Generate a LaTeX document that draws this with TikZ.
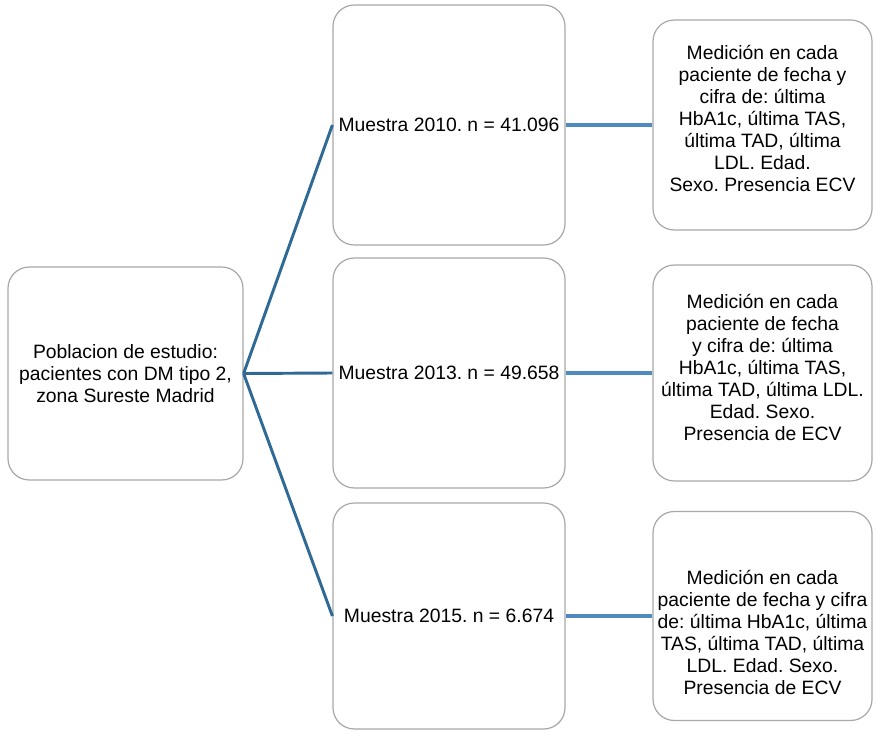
\documentclass[tikz,border=0pt]{standalone}
\usepackage{fontspec}
\setmainfont{Liberation Sans}
\frenchspacing
\definecolor{fanblue}{HTML}{2F6A96}
\definecolor{linkblue}{HTML}{4F8BBF}
\definecolor{boxgray}{HTML}{A8A8A8}

\begin{document}
\begin{tikzpicture}[x=0.75pt,y=-0.75pt,
		box/.style={draw=boxgray, line width=0.9pt, rounded corners=16pt, fill=white, align=center, font=\fontsize{14.5}{16.5}\selectfont},
		txt/.style={align=center, inner sep=0pt, font=\fontsize{14.5}{16.5}\selectfont},
		fan/.style={draw=fanblue, line width=2.2pt},
		link/.style={draw=linkblue, line width=3pt}]
			%%%%% START %%%%%
			\useasboundingbox (0,0) rectangle (874,731);
			
			\node[box, minimum width=176.25pt, minimum height=159.75pt] (pop) at (125.5, 373.5) {Poblacion de estudio:\\pacientes con DM tipo 2,\\zona Sureste Madrid};
			
			\node[box, minimum width=174pt, minimum height=180pt] (m10) at (449, 125) {Muestra 2010. n = 41.096};
			\node[box, minimum width=174pt, minimum height=172.5pt] (m13) at (449, 373) {Muestra 2013. n = 49.658};
			\node[box, minimum width=174pt, minimum height=169.5pt] (m15) at (449, 616) {Muestra 2015. n = 6.674};
			
			\node[box, minimum width=164.25pt, minimum height=157.5pt] (r10) at (762.5, 125) {};
			\node[txt] (t10) at ([yshift=5pt]r10.center) {Medición en cada\\paciente de fecha y\\cifra de: última\\HbA1c, última TAS,\\última TAD, última\\LDL. Edad.\\Sexo. Presencia ECV};
			
			\node[box, minimum width=164.25pt, minimum height=162pt] (r13) at (762.5, 373) {};
			\node[txt] (t13) at ([yshift=4pt]r13.center) {Medición en cada\\paciente de fecha\\y cifra de: última\\HbA1c, última TAS,\\última TAD, última LDL.\\Edad. Sexo.\\Presencia de ECV};
			
			\node[box, minimum width=164.25pt, minimum height=156.75pt] (r15) at (762.5, 616) {};
			\node[txt] (t15) at ([yshift=-12pt]r15.center) {Medición en cada\\paciente de fecha y cifra\\de: última HbA1c, última\\TAS, última TAD, última\\LDL. Edad. Sexo.\\Presencia de ECV};
			
			\draw[fan] (pop.east) -- (m10.west);
			\draw[fan] (pop.east) -- (m13.west);
			\draw[fan] (pop.east) -- (m15.west);
			
			\draw[link] (m10.east) -- (r10.west);
			\draw[link] (m13.east) -- (r13.west);
			\draw[link] (m15.east) -- (r15.west);
			%%%%% END %%%%%
\end{tikzpicture}
\end{document}
